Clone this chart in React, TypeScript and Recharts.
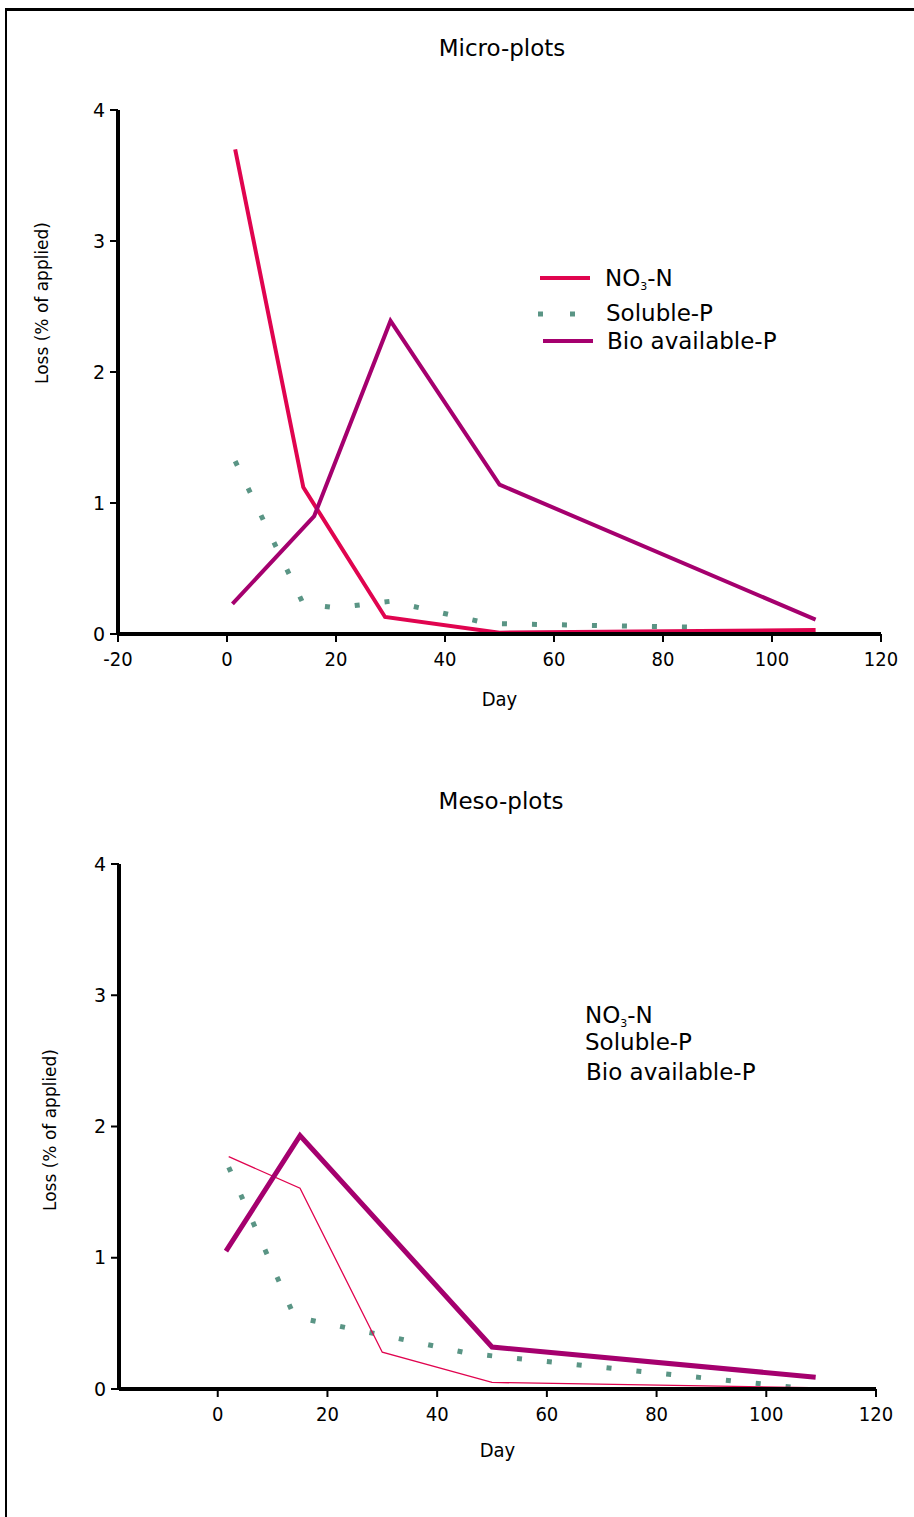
import React from 'react';
import { LineChart, Line, XAxis, YAxis } from 'recharts';

// Micro-plots
const microNo3Day = [1.5, 14, 29, 50, 108];
const microNo3Loss = [3.7, 1.12, 0.13, 0.01, 0.03];
const microSolDay = [1.5, 14, 20, 30, 48, 88];
const microSolLoss = [1.32, 0.23, 0.2, 0.25, 0.08, 0.05];
const microBioDay = [1, 16, 30, 50, 108];
const microBioLoss = [0.23, 0.9, 2.39, 1.14, 0.11];

// Meso-plots
const mesoNo3Day = [2, 15, 30, 50, 108];
const mesoNo3Loss = [1.77, 1.53, 0.28, 0.05, 0.01];
const mesoSolDay = [2, 14, 46, 108];
const mesoSolLoss = [1.69, 0.55, 0.27, 0.0];
const mesoBioDay = [1.5, 15, 50, 109];
const mesoBioLoss = [1.05, 1.93, 0.32, 0.09];

const microDayTicks = [-20, 0, 20, 40, 60, 80, 100, 120];
const mesoDayTicks = [0, 20, 40, 60, 80, 100, 120];
const lossTicks = [0, 1, 2, 3, 4];

const NO3 = '#E0044F';
const BIO = '#A5006E';
const SOL = '#5A9585';

const SANS = "'DejaVu Sans', sans-serif";
const NARROW = "'Liberation Sans Narrow', 'DejaVu Sans Condensed', 'Liberation Sans', sans-serif";

const toPoints = (days: number[], losses: number[]) =>
    days.map((day, i) => ({ day, loss: losses[i] }));

const axisLine = { stroke: '#000', strokeWidth: 4 };
const tickLine = { stroke: '#000', strokeWidth: 2 };

const No3Label = () => (
    <span>NO<sub style={{ fontSize: 11, verticalAlign: -4 }}>3</sub>-N</span>
);

const YTitle: React.FC<{ cx: number; cy: number }> = ({ cx, cy }) => (
    <div style={{
        position: 'absolute', left: cx - 110, top: cy - 11, width: 220, height: 22,
        textAlign: 'center', fontFamily: SANS, fontSize: 17, lineHeight: '22px',
        transform: 'rotate(-90deg)', whiteSpace: 'nowrap'
    }}>Loss (% of applied)</div>
);

const Title: React.FC<{ cx: number; cy: number; text: string }> = ({ cx, cy, text }) => (
    <div style={{
        position: 'absolute', left: cx - 150, top: cy - 14, width: 300, height: 28,
        textAlign: 'center', fontFamily: SANS, fontSize: 23, lineHeight: '28px'
    }}>{text}</div>
);

const legendText: React.CSSProperties = {
    position: 'absolute', fontFamily: SANS, fontSize: 23, lineHeight: '28px', whiteSpace: 'nowrap'
};

export default function App() {
    return (
        <div style={{ position: 'absolute', left: 0, top: 0, width: 914, height: 1517, background: '#fff', overflow: 'hidden' }}>
            <div style={{ position: 'absolute', left: 5, top: 8, right: 0, bottom: 0, borderLeft: '2px solid #000', borderTop: '3px solid #000' }} />

            {/* Micro-plots */}
            <div style={{ position: 'absolute', left: 0, top: 0 }}>
                <LineChart width={914} height={730} margin={{ top: 110, right: 33, bottom: 16, left: 58 }}>
                    <XAxis
                        type="number" dataKey="day" domain={[-20, 120]} ticks={microDayTicks} allowDataOverflow
                        height={80} axisLine={axisLine} tickLine={tickLine} tickSize={8} tickMargin={10}
                        tick={{ fill: '#000', fontSize: 20, fontFamily: NARROW }}
                        label={{ value: 'Day', position: 'insideBottom', offset: 8, fill: '#000', fontSize: 20, fontFamily: NARROW }}
                    />
                    <YAxis
                        type="number" domain={[0, 4]} ticks={lossTicks} width={60}
                        axisLine={axisLine} tickLine={tickLine} tickSize={8} tickMargin={5}
                        tick={{ fill: '#000', fontSize: 19, fontFamily: SANS }}
                    />
                    <Line data={toPoints(microSolDay, microSolLoss)} dataKey="loss" type="linear" stroke={SOL} strokeWidth={5}
                        strokeDasharray="5 25" dot={false} activeDot={false} isAnimationActive={false} />
                    <Line data={toPoints(microNo3Day, microNo3Loss)} dataKey="loss" type="linear" stroke={NO3} strokeWidth={4}
                        dot={false} activeDot={false} isAnimationActive={false} />
                    <Line data={toPoints(microBioDay, microBioLoss)} dataKey="loss" type="linear" stroke={BIO} strokeWidth={4}
                        dot={false} activeDot={false} isAnimationActive={false} />
                </LineChart>
            </div>
            <Title cx={502} cy={48} text="Micro-plots" />
            <YTitle cx={42} cy={303} />

            {/* legend, micro */}
            <svg style={{ position: 'absolute', left: 530, top: 260 }} width={80} height={100}>
                <line x1={10} x2={60} y1={18} y2={18} stroke={NO3} strokeWidth={4} />
                <line x1={8} x2={50} y1={54} y2={54} stroke={SOL} strokeWidth={5} strokeDasharray="5 27" />
                <line x1={13} x2={63} y1={81} y2={81} stroke={BIO} strokeWidth={4} />
            </svg>
            <div style={{ ...legendText, left: 605, top: 264 }}><No3Label /></div>
            <div style={{ ...legendText, left: 606, top: 299 }}>Soluble-P</div>
            <div style={{ ...legendText, left: 607, top: 327 }}>Bio available-P</div>

            {/* Meso-plots */}
            <div style={{ position: 'absolute', left: 0, top: 760 }}>
                <LineChart width={914} height={760} margin={{ top: 104, right: 38, bottom: 51, left: 59 }}>
                    <XAxis
                        type="number" dataKey="day" domain={[-18, 120]} ticks={mesoDayTicks} allowDataOverflow
                        height={80} axisLine={axisLine} tickLine={tickLine} tickSize={8} tickMargin={10}
                        tick={{ fill: '#000', fontSize: 20, fontFamily: NARROW }}
                        label={{ value: 'Day', position: 'insideBottom', offset: 12, fill: '#000', fontSize: 20, fontFamily: NARROW }}
                    />
                    <YAxis
                        type="number" domain={[0, 4]} ticks={lossTicks} width={60}
                        axisLine={axisLine} tickLine={tickLine} tickSize={8} tickMargin={5}
                        tick={{ fill: '#000', fontSize: 19, fontFamily: SANS }}
                    />
                    <Line data={toPoints(mesoSolDay, mesoSolLoss)} dataKey="loss" type="linear" stroke={SOL} strokeWidth={5}
                        strokeDasharray="5 25" dot={false} activeDot={false} isAnimationActive={false} />
                    <Line data={toPoints(mesoNo3Day, mesoNo3Loss)} dataKey="loss" type="linear" stroke={NO3} strokeWidth={1.3}
                        dot={false} activeDot={false} isAnimationActive={false} />
                    <Line data={toPoints(mesoBioDay, mesoBioLoss)} dataKey="loss" type="linear" stroke={BIO} strokeWidth={5}
                        dot={false} activeDot={false} isAnimationActive={false} />
                </LineChart>
            </div>
            <Title cx={501} cy={801} text="Meso-plots" />
            <YTitle cx={50} cy={1130} />

            {/* legend, meso (text only, as in the original) */}
            <div style={{ ...legendText, left: 585, top: 1001 }}><No3Label /></div>
            <div style={{ ...legendText, left: 585, top: 1028 }}>Soluble-P</div>
            <div style={{ ...legendText, left: 586, top: 1058 }}>Bio available-P</div>
        </div>
    );
}
